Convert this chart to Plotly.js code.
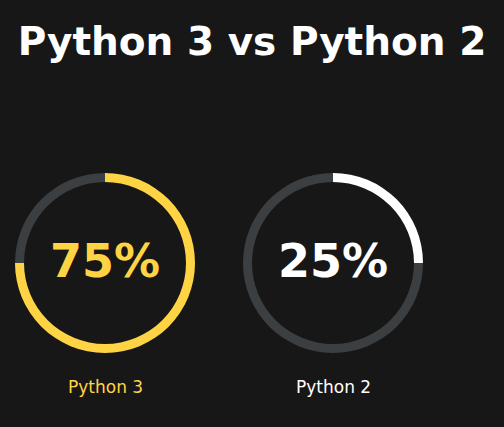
<!DOCTYPE html>
<html>
<head>
<meta charset="utf-8">
<script src="https://cdn.plot.ly/plotly-3.0.1.min.js"></script>
<style>
html,body{margin:0;padding:0;background:#171717;}
#chart{width:504px;height:427px;}
</style>
</head>
<body>
<div id="chart"></div>
<script>
const categories = ['Python 3', 'Python 2'];
const shares = [75, 25];
const colors = ['#FFD444', '#FFFFFF'];
const trackColor = '#3C3F42';

const W = 504, H = 427;
const centersX = [105, 333];
const centerY = 263;
const R = 90;

const traces = categories.map((c, i) => {
  const cx = centersX[i];
  return {
    type: 'pie',
    values: [shares[i], 100 - shares[i]],
    labels: [c, 'rest'],
    sort: false,
    direction: 'clockwise',
    rotation: 0,
    hole: 0.9,
    textinfo: 'none',
    hoverinfo: 'skip',
    showlegend: false,
    marker: {colors: [colors[i], trackColor], line: {width: 0}},
    domain: {
      x: [(cx - R) / W, (cx + R) / W],
      y: [1 - (centerY + R) / H, 1 - (centerY - R) / H]
    }
  };
});

const FONT = 'DejaVu Sans, sans-serif';
const annotations = [];
categories.forEach((c, i) => {
  annotations.push({
    text: shares[i] + '%',
    x: centersX[i] / W, y: 1 - 261 / H,
    xref: 'paper', yref: 'paper', xanchor: 'center', yanchor: 'middle',
    showarrow: false,
    font: {family: FONT, size: 46, color: colors[i], weight: 700}
  });
  annotations.push({
    text: c,
    x: centersX[i] / W, y: 1 - 387 / H,
    xref: 'paper', yref: 'paper', xanchor: 'center', yanchor: 'middle',
    showarrow: false,
    font: {family: FONT, size: 17, color: colors[i]}
  });
});

const layout = {
  width: W, height: H,
  margin: {l: 0, r: 0, t: 0, b: 0},
  paper_bgcolor: '#171717',
  plot_bgcolor: '#171717',
  title: {
    text: 'Python 3 vs Python 2',
    x: 0.5, xanchor: 'center',
    y: 1 - 41 / H, yanchor: 'middle',
    font: {family: FONT, size: 39, color: '#FFFFFF', weight: 700}
  },
  annotations: annotations
};

Plotly.newPlot('chart', traces, layout, {displayModeBar: false, staticPlot: true});
</script>
</body>
</html>
